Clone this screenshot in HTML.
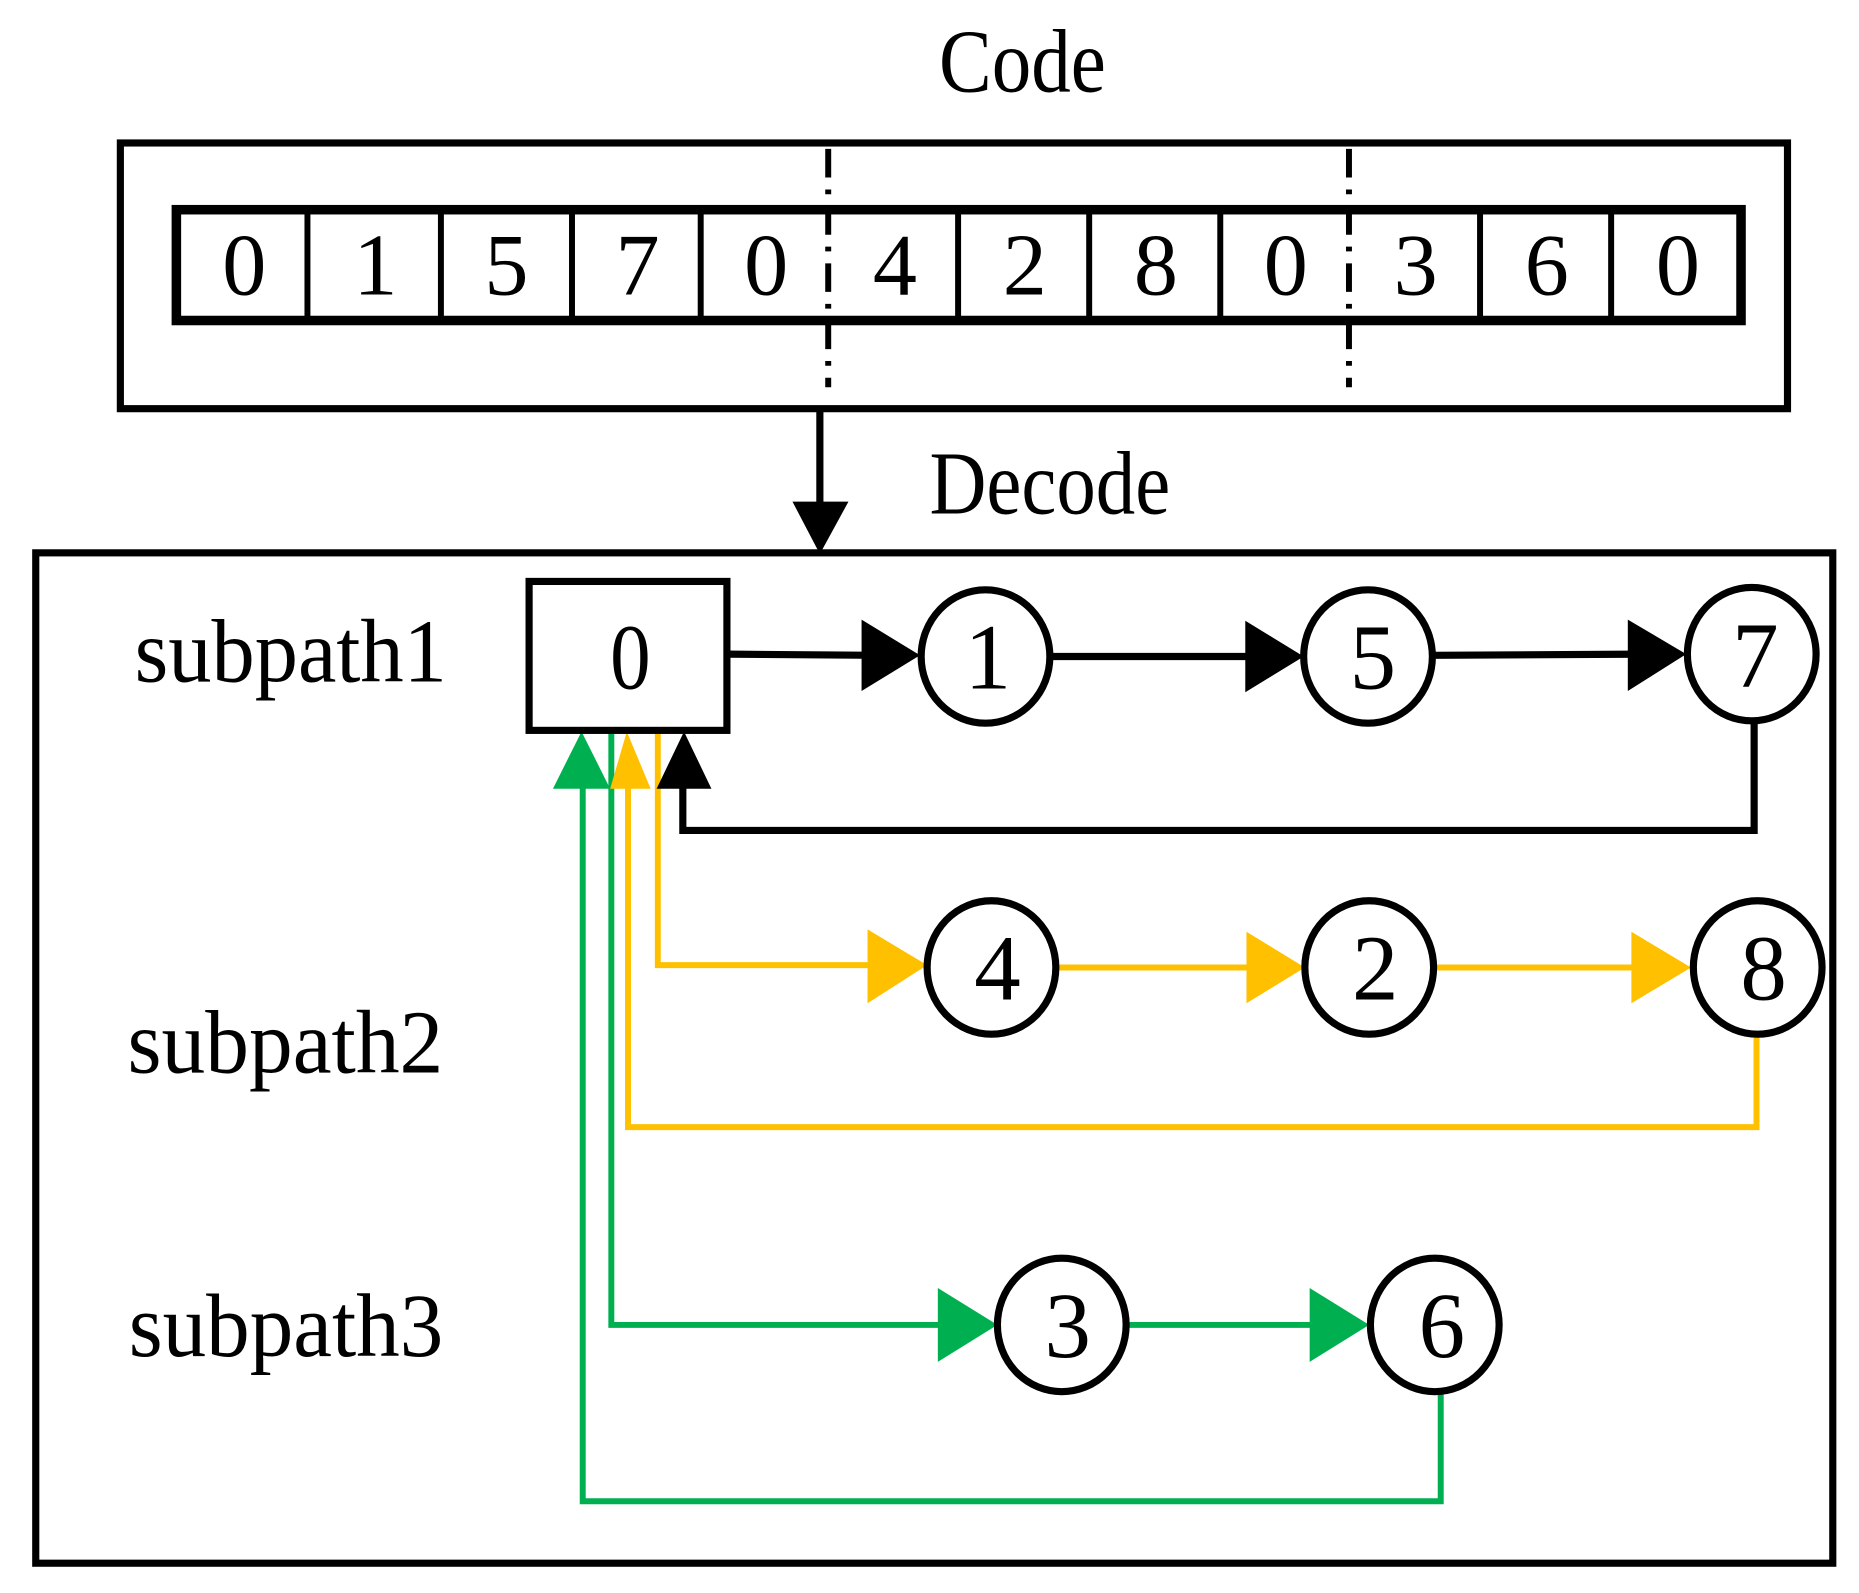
<!DOCTYPE html>
<html><head><meta charset="utf-8"><style>html,body{margin:0;padding:0;background:#fff}svg{display:block}</style></head>
<body>
<svg width="1859" height="1593" viewBox="0 0 1560 1337" preserveAspectRatio="none" xmlns="http://www.w3.org/2000/svg" font-family="Liberation Serif, serif">
<rect width="1560" height="1337" fill="#fff"/>
<text x="858" y="77" font-size="76" text-anchor="middle" textLength="140" lengthAdjust="spacingAndGlyphs">Code</text>
<rect x="101" y="120" width="1399" height="223" fill="none" stroke="#000" stroke-width="6"/>
<rect x="148" y="176" width="1313" height="93" fill="none" stroke="#000" stroke-width="8"/>
<g stroke="#000" stroke-width="5">
<line x1="258" y1="176" x2="258" y2="269"/><line x1="370" y1="176" x2="370" y2="269"/>
<line x1="480" y1="176" x2="480" y2="269"/><line x1="588" y1="176" x2="588" y2="269"/>
<line x1="804" y1="176" x2="804" y2="269"/><line x1="914" y1="176" x2="914" y2="269"/>
<line x1="1024" y1="176" x2="1024" y2="269"/><line x1="1242" y1="176" x2="1242" y2="269"/>
<line x1="1352" y1="176" x2="1352" y2="269"/>
</g>
<g stroke="#000" stroke-width="5" stroke-dasharray="24,10,4,10">
<line x1="695" y1="125" x2="695" y2="325"/><line x1="1132" y1="125" x2="1132" y2="325"/>
</g>
<g font-size="74" text-anchor="middle" lengthAdjust="spacingAndGlyphs">
<text x="205" y="247" textLength="32">0</text><text x="315" y="247" textLength="28">1</text><text x="425" y="247" textLength="30">5</text>
<text x="535" y="247" textLength="30">7</text><text x="643" y="247" textLength="32">0</text><text x="751" y="247" textLength="32">4</text>
<text x="860" y="247" textLength="32">2</text><text x="970" y="247" textLength="30">8</text><text x="1079" y="247" textLength="32">0</text>
<text x="1188" y="247" textLength="30">3</text><text x="1298" y="247" textLength="32">6</text><text x="1408" y="247" textLength="32">0</text>
</g>
<line x1="688" y1="345" x2="688" y2="425" stroke="#000" stroke-width="6"/>
<polygon points="665,421 712,421 688,465" fill="#000"/>
<text x="881" y="431" font-size="76" text-anchor="middle" textLength="202" lengthAdjust="spacingAndGlyphs">Decode</text>
<rect x="30" y="464" width="1508" height="848" fill="none" stroke="#000" stroke-width="6"/>
<g font-size="76">
<text x="113" y="572" textLength="262" lengthAdjust="spacingAndGlyphs">subpath1</text>
<text x="107" y="900" textLength="265" lengthAdjust="spacingAndGlyphs">subpath2</text>
<text x="108" y="1138" textLength="264" lengthAdjust="spacingAndGlyphs">subpath3</text>
</g>
<g stroke="#00B050" stroke-width="5" fill="none">
<polyline points="513,612 513,1112 800,1112"/>
<line x1="945" y1="1112" x2="1110" y2="1112"/>
<polyline points="1209,1168 1209,1260 489,1260 489,655"/>
</g>
<g fill="#00B050">
<polygon points="787,1081 787,1143 837,1112"/>
<polygon points="1099,1081 1099,1143 1149,1112"/>
<polygon points="464,662 512,662 488,614"/>
</g>
<g stroke="#FFC000" stroke-width="5" fill="none">
<polyline points="552,612 552,810 740,810"/>
<line x1="886" y1="812" x2="1060" y2="812"/>
<line x1="1204" y1="812" x2="1380" y2="812"/>
<polyline points="1474,868 1474,946 527,946 527,655"/>
</g>
<g fill="#FFC000">
<polygon points="728,780 728,842 778,810"/>
<polygon points="1046,782 1046,842 1095,812"/>
<polygon points="1369,782 1369,842 1419,812"/>
<polygon points="512,662 546,662 526,614"/>
</g>
<g stroke="#000" stroke-width="6" fill="none">
<line x1="610" y1="549" x2="735" y2="550"/>
<line x1="882" y1="551" x2="1055" y2="551"/>
<line x1="1203" y1="550" x2="1380" y2="549"/>
<polyline points="1472,605 1472,697 573,697 573,655"/>
</g>
<g fill="#000">
<polygon points="723,520 723,580 772,550"/>
<polygon points="1045,521 1045,581 1094,551"/>
<polygon points="1366,520 1366,580 1415,549"/>
<polygon points="551,662 597,662 574,614"/>
</g>
<rect x="444" y="488" width="166" height="125" fill="#fff" stroke="#000" stroke-width="6"/>
<text x="529" y="578" font-size="78" text-anchor="middle" textLength="34" lengthAdjust="spacingAndGlyphs">0</text>
<g fill="#fff" stroke="#000" stroke-width="6">
<ellipse cx="827" cy="551" rx="54" ry="56"/><ellipse cx="1148" cy="551" rx="54" ry="56"/>
<ellipse cx="1470" cy="549" rx="54" ry="56"/><ellipse cx="832" cy="812" rx="54" ry="56"/>
<ellipse cx="1149" cy="812" rx="54" ry="56"/><ellipse cx="1475" cy="812" rx="54" ry="56"/>
<ellipse cx="891" cy="1112" rx="54" ry="56"/><ellipse cx="1204" cy="1112" rx="54" ry="56"/>
</g>
<g font-size="78" text-anchor="middle" lengthAdjust="spacingAndGlyphs">
<text x="829" y="578" textLength="30">1</text><text x="1152" y="578" textLength="32">5</text><text x="1473" y="576" textLength="32">7</text>
<text x="837" y="839" textLength="34">4</text><text x="1154" y="839" textLength="34">2</text><text x="1480" y="839" textLength="32">8</text>
<text x="896" y="1139" textLength="32">3</text><text x="1210" y="1139" textLength="34">6</text>
</g>
</svg>
</body></html>
